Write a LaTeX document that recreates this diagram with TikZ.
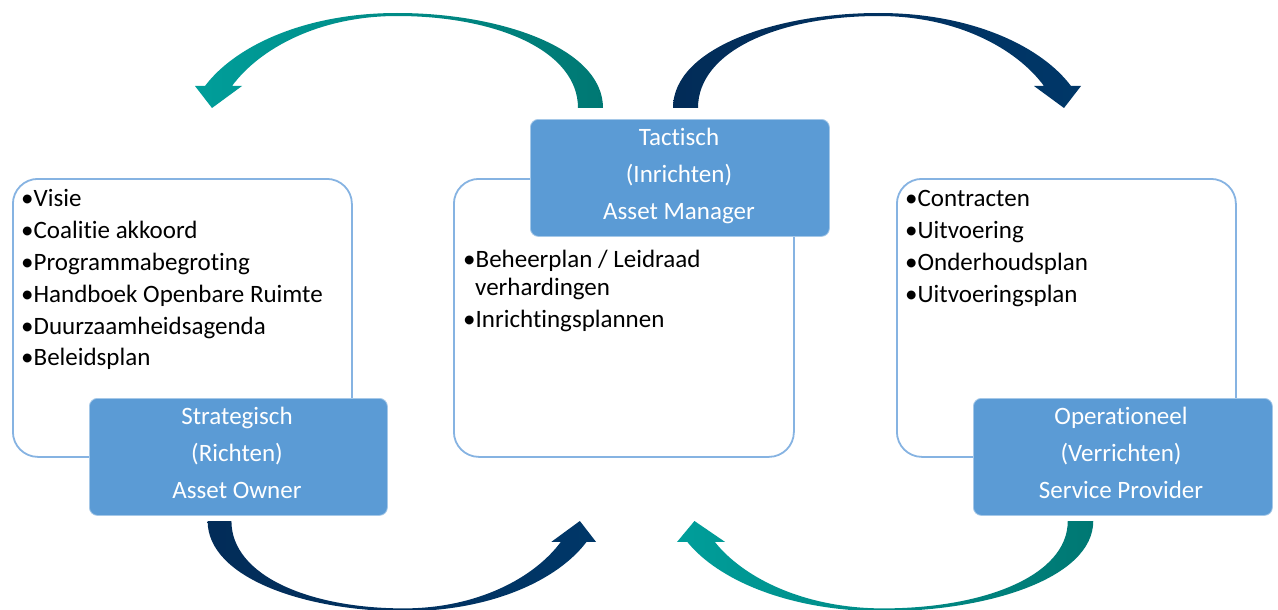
\documentclass[tikz,border=0pt]{standalone}
\usepackage{fontspec}
\setmainfont{Carlito}[Ligatures=NoCommon]
\definecolor{tealA}{HTML}{009E9A}
\definecolor{tealB}{HTML}{007873}
\definecolor{navyA}{HTML}{003768}
\definecolor{navyB}{HTML}{022C58}
\definecolor{boxblue}{HTML}{5B9BD5}
\definecolor{boxline}{HTML}{86B3E2}
\newcommand\cyclearrow{%
 (13,0) .. controls (13,-60) and (-90,-95) .. (-193,-95)
 .. controls (-285,-95) and (-355,-62) .. (-385,-22)
 -- (-395,-22) -- (-378,0) -- (-348,-22) -- (-358,-22)
 .. controls (-330,-60) and (-270,-92) .. (-193,-92)
 .. controls (-95,-92) and (-12,-58) .. (-12,0) -- cycle}
\begin{document}
\begin{tikzpicture}[x=1pt,y=-1pt,
  whitebox/.style={draw=boxline, line width=1.8pt, fill=white, rounded corners=25pt, anchor=north west, minimum height=278pt, inner sep=0pt},
  bluebox/.style={draw=boxblue!55!white, line width=0.8pt, fill=boxblue, rounded corners=8pt, anchor=north west, minimum height=117pt, inner sep=0pt},
  item/.style={anchor=base west, inner sep=0pt, font=\fontsize{25}{30}\selectfont, text=black},
  title/.style={anchor=base, inner sep=0pt, font=\fontsize{25}{30}\selectfont, text=white}]
\useasboundingbox (0,0) rectangle (1278,610);

% arrows
\begin{scope}[shift={(590,108)}]
  \shade[left color=tealA, right color=tealB] \cyclearrow;
\end{scope}
\begin{scope}[shift={(686,108)}, xscale=-1]
  \shade[left color=navyB, right color=navyA] \cyclearrow;
\end{scope}
\begin{scope}[shift={(220,521)}, xscale=-0.952, yscale=-0.95]
  \shade[left color=navyB, right color=navyA] \cyclearrow;
\end{scope}
\begin{scope}[shift={(1080,521)}, xscale=1.02, yscale=-0.95]
  \shade[left color=tealA, right color=tealB] \cyclearrow;
\end{scope}

% white boxes
\node[whitebox, minimum width=339pt] (leftbox) at (12,178) {};
\node[whitebox, minimum width=340pt] (midbox) at (453,178) {};
\node[whitebox, minimum width=339pt] (rightbox) at (896,178) {};

% blue boxes
\node[bluebox, minimum width=298pt] (strat) at (89,398) {};
\node[bluebox, minimum width=299pt] (tact) at (530,119) {};
\node[bluebox, minimum width=299pt] (oper) at (973,398) {};

% titles
\node[title] (s1) at (237,424) {Strategisch};
\node[title] (s2) at (237,461) {(Richten)};
\node[title] (s3) at (237,498) {Asset Owner};
\node[title] (t1) at (679,145) {Tactisch};
\node[title] (t2) at (679,182) {(Inrichten)};
\node[title] (t3) at (679,219) {Asset Manager};
\node[title] (o1) at (1121,424) {Operationeel};
\node[title] (o2) at (1121,461) {(Verrichten)};
\node[title] (o3) at (1121,498) {Service Provider};

% left list
\node[item] (a1) at (21,206) {•Visie};
\node[item] (a2) at (21,238) {•Coalitie akkoord};
\node[item] (a3) at (21,270) {•Programmabegroting};
\node[item] (a4) at (21,302) {•Handboek Openbare Ruimte};
\node[item] (a5) at (21,334) {•Duurzaamheidsagenda};
\node[item] (a6) at (21,365) {•Beleidsplan};
% middle list
\node[item] (b1) at (463,267) {•Beheerplan / Leidraad};
\node[item] (b2) at (475,295) {verhardingen};
\node[item] (b3) at (463,327) {•Inrichtingsplannen};
% right list
\node[item] (c1) at (905,206) {•Contracten};
\node[item] (c2) at (905,238) {•Uitvoering};
\node[item] (c3) at (905,270) {•Onderhoudsplan};
\node[item] (c4) at (905,302) {•Uitvoeringsplan};
\end{tikzpicture}
\end{document}
